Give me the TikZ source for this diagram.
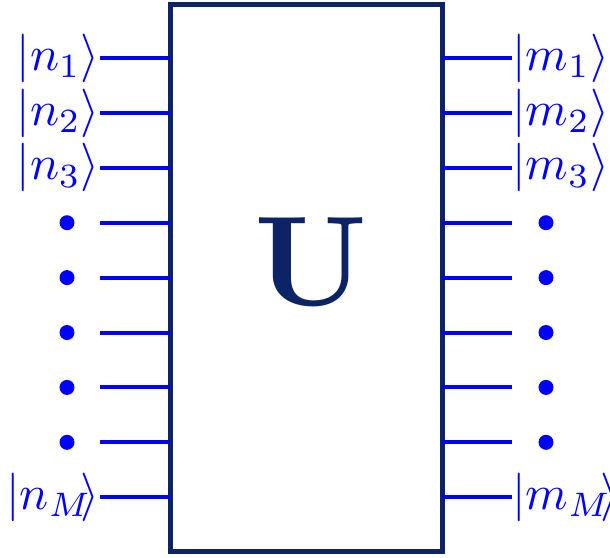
\documentclass[tikz,border=0pt]{standalone}
\definecolor{navy}{RGB}{12,36,102}
\definecolor{wireblue}{RGB}{0,0,255}
\newcommand{\bigket}[1]{\scalebox{4.85}{$|#1\rangle$}}
\begin{document}
\begin{tikzpicture}[x=1pt,y=-1pt,
  wire/.style={draw=wireblue,line width=4pt},
  ket/.style={text=wireblue,inner sep=0pt},
  dot/.style={circle,fill=wireblue,inner sep=0pt,minimum size=15pt},
  ubox/.style={draw=navy,line width=5pt,minimum width=272pt,minimum height=547pt,inner sep=0pt}]
\useasboundingbox (0,0) rectangle (610,557);
\node[ubox] (U) at (306,277.5) {};
\node[text=navy,inner sep=0pt] (Ulab) at (311,262) {\scalebox{12.8}{$\mathbf{U}$}};
% wire endpoints
\foreach \i in {0,...,8}{
  \pgfmathsetmacro{\yy}{58+54.9*\i}
  \coordinate (L\i) at (100,\yy);
  \coordinate (R\i) at (512,\yy);
  \coordinate (LB\i) at (170,\yy);
  \coordinate (RB\i) at (442,\yy);
  \draw[wire] (L\i) -- (LB\i);
  \draw[wire] (RB\i) -- (R\i);
}
\node[ket,anchor=east] (n1) at (L0) {\bigket{n_1}};
\node[ket,anchor=east] (n2) at (L1) {\bigket{n_2}};
\node[ket,anchor=east] (n3) at (L2) {\bigket{n_3}};
\node[ket,anchor=east] (nM) at (L8) {\bigket{n_{M\mkern-5mu}}};
\node[ket,anchor=west] (m1) at (R0) {\bigket{m_1}};
\node[ket,anchor=west] (m2) at (R1) {\bigket{m_2}};
\node[ket,anchor=west] (m3) at (R2) {\bigket{m_3}};
\node[ket,anchor=west] (mM) at (R8) {\bigket{m_{M\mkern-5mu}}};
\foreach \i in {3,...,7}{
  \pgfmathsetmacro{\yy}{58+54.9*\i}
  \node[dot] (dl\i) at (67,\yy) {};
  \node[dot] (dr\i) at (546,\yy) {};
}
\end{tikzpicture}
\end{document}
